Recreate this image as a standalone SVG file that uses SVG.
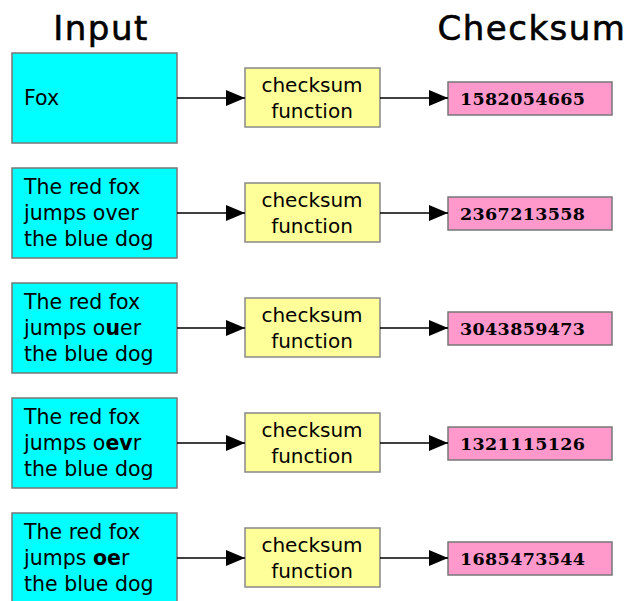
<svg xmlns="http://www.w3.org/2000/svg" width="629" height="601" viewBox="0 0 629 601">
<defs>
<style>
.hdr{font-family:"DejaVu Sans",sans-serif;font-size:34px;letter-spacing:1.5px;fill:#000;stroke:#000;stroke-width:0.6}
.inp rect{fill:#00ffff;stroke:#777;stroke-width:1.5}
.inp text{font-family:"DejaVu Sans",sans-serif;font-size:20.5px;fill:#000}
.fn rect{fill:#ffff99;stroke:#888;stroke-width:1.5}
.fn text{font-family:"DejaVu Sans",sans-serif;font-size:20px;fill:#000;text-anchor:middle}
.out rect{fill:#ff99cc;stroke:#777;stroke-width:1.5}
.out text{font-family:"DejaVu Serif",serif;font-weight:bold;font-size:17.5px;fill:#000}
.b{font-weight:bold}
.conn line{stroke:#000;stroke-width:1.6;marker-end:url(#ah)}
</style>
<marker id="ah" markerUnits="userSpaceOnUse" markerWidth="20" markerHeight="16" refX="19" refY="8" orient="auto">
<path d="M0,0 L19,8 L0,16 Z" fill="#000"/>
</marker>
</defs>
<text class="hdr" x="101" y="40" text-anchor="middle">Input</text>
<text class="hdr" x="532" y="40" text-anchor="middle">Checksum</text>

<g id="in1" class="inp"><rect x="12" y="53" width="165" height="90"/><text x="24" y="105">Fox</text></g>
<g id="in2" class="inp"><rect x="12" y="168" width="165" height="90"/><text x="24" y="194">The red fox</text><text x="24" y="220">jumps over</text><text x="24" y="246">the blue dog</text></g>
<g id="in3" class="inp"><rect x="12" y="283" width="165" height="90"/><text x="24" y="309">The red fox</text><text x="24" y="335">jumps o<tspan class="b">u</tspan>er</text><text x="24" y="361">the blue dog</text></g>
<g id="in4" class="inp"><rect x="12" y="398" width="165" height="90"/><text x="24" y="424">The red fox</text><text x="24" y="450">jumps o<tspan class="b">ev</tspan>r</text><text x="24" y="476">the blue dog</text></g>
<g id="in5" class="inp"><rect x="12" y="513" width="165" height="90"/><text x="24" y="539">The red fox</text><text x="24" y="565">jumps <tspan class="b">oe</tspan>r</text><text x="24" y="591">the blue dog</text></g>

<g id="fn1" class="fn"><rect x="245" y="68" width="135" height="59"/><text x="312" y="92">checksum</text><text x="312" y="118">function</text></g>
<g id="fn2" class="fn"><rect x="245" y="183" width="135" height="59"/><text x="312" y="207">checksum</text><text x="312" y="233">function</text></g>
<g id="fn3" class="fn"><rect x="245" y="298" width="135" height="59"/><text x="312" y="322">checksum</text><text x="312" y="348">function</text></g>
<g id="fn4" class="fn"><rect x="245" y="413" width="135" height="59"/><text x="312" y="437">checksum</text><text x="312" y="463">function</text></g>
<g id="fn5" class="fn"><rect x="245" y="528" width="135" height="59"/><text x="312" y="552">checksum</text><text x="312" y="578">function</text></g>

<g id="out1" class="out"><rect x="448" y="82" width="164" height="33"/><text x="460" y="105" textLength="125">1582054665</text></g>
<g id="out2" class="out"><rect x="448" y="197" width="164" height="33"/><text x="460" y="220" textLength="125">2367213558</text></g>
<g id="out3" class="out"><rect x="448" y="312" width="164" height="33"/><text x="460" y="335" textLength="125">3043859473</text></g>
<g id="out4" class="out"><rect x="448" y="427" width="164" height="33"/><text x="460" y="450" textLength="125">1321115126</text></g>
<g id="out5" class="out"><rect x="448" y="542" width="164" height="33"/><text x="460" y="565" textLength="125">1685473544</text></g>

<g id="connectors" class="conn">
<line x1="177" y1="98" x2="245" y2="98"/><line x1="380" y1="98" x2="448" y2="98"/>
<line x1="177" y1="213" x2="245" y2="213"/><line x1="380" y1="213" x2="448" y2="213"/>
<line x1="177" y1="328" x2="245" y2="328"/><line x1="380" y1="328" x2="448" y2="328"/>
<line x1="177" y1="443" x2="245" y2="443"/><line x1="380" y1="443" x2="448" y2="443"/>
<line x1="177" y1="558" x2="245" y2="558"/><line x1="380" y1="558" x2="448" y2="558"/>
</g>
</svg>
